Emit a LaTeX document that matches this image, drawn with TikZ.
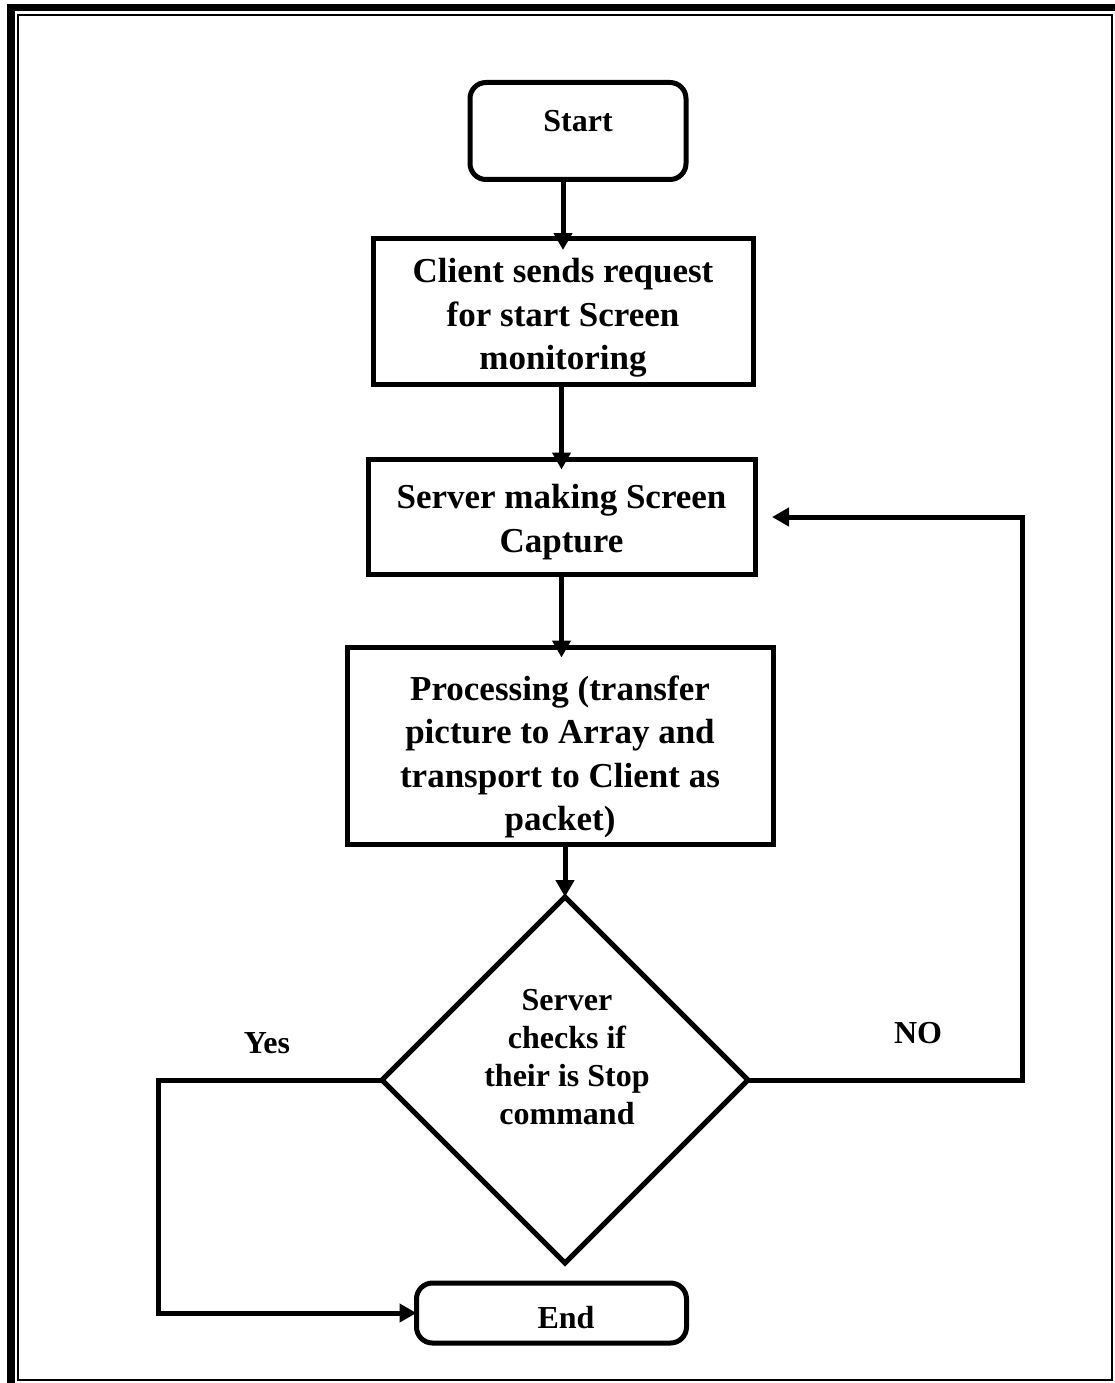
\documentclass[tikz,border=0pt]{standalone}
\usepackage{fontspec}
\setmainfont{Liberation Serif}
\usetikzlibrary{arrows.meta,shapes.geometric}
\begin{document}
\begin{tikzpicture}[x=1pt,y=-1pt,
  box/.style={draw, line width=5pt, rectangle, inner sep=0pt, outer sep=0pt},
  rbox/.style={box, rounded corners=16pt},
  btxt/.style={font=\bfseries\fontsize{35}{43.5}\selectfont, align=center, inner sep=0pt},
  lbl/.style={font=\bfseries\fontsize{32}{38}\selectfont, align=center, inner sep=0pt},
  conn/.style={line width=5pt},
  arr/.style={conn, -{Triangle[length=17pt,width=18pt]}}]
\useasboundingbox (0,0) rectangle (1115,1383);
% page frame
\fill[black] (7,4) rectangle (1115,11);
\fill[black] (7,4) rectangle (15,1383);
\draw[line width=2pt] (18,15) rectangle (1112,1380);
% nodes
\node[rbox, minimum width=216, minimum height=97] (start) at (578,131) {};
\node[lbl] (starttxt) at (578,121) {Start};
\node[box, minimum width=380, minimum height=146] (req) at (563,311) {};
\node[btxt] (reqtxt) at (563,318) {Client sends request\\for start Screen\\monitoring};
\node[box, minimum width=387, minimum height=115] (srv) at (561.5,517) {};
\node[btxt] (srvtxt) at (561.5,522) {Server making Screen\\Capture};
\node[box, minimum width=426, minimum height=197] (proc) at (560,746) {};
\node[btxt] (proctxt) at (560,757) {Processing (transfer\\picture to Array and\\transport to Client as\\packet)};
\node[draw, diamond, line width=5pt, minimum width=366, minimum height=366,
  inner sep=0pt, outer sep=0pt] (dec) at (565,1080) {};
\node[lbl] (dectxt) at (567,1057) {Server\\checks if\\their is Stop\\command};
\node[rbox, minimum width=270, minimum height=60] (end) at (551.5,1313) {};
\node[lbl] (endtxt) at (566,1318) {End};
\node[lbl] (yes) at (267,1043) {Yes};
\node[lbl] (no) at (918,1033) {NO};
\coordinate (yk) at (158,1080);
\coordinate (nk) at (1022,1080);
% connectors
\draw[arr, shorten >=-12pt] (start.south -| req.north) -- (req.north);
\draw[arr, shorten >=-10pt] (req.south -| srv.north) -- (srv.north);
\draw[arr, shorten >=-10pt] (srv.south) -- (proc.north -| srv.south);
\draw[arr] (proc.south -| dec.north) -- (dec.north);
\draw[arr] (dec.west) -- (yk) |- (end.west);
\draw[arr, shorten >=17pt] (dec.east) -- (nk) |- (srv.east);
\end{tikzpicture}
\end{document}
